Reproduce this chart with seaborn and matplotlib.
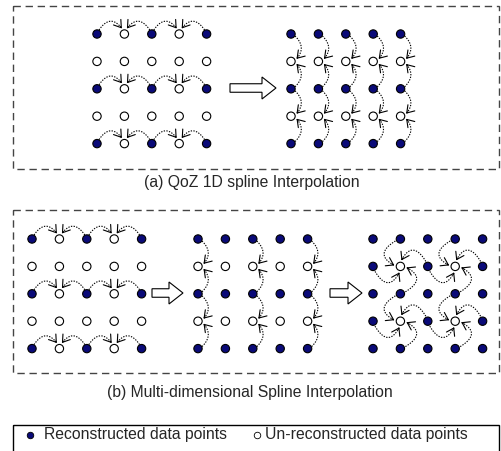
import numpy as np
import pandas as pd
import matplotlib.pyplot as plt
from matplotlib.patches import Rectangle, FancyArrow
import seaborn as sns

sns.set_theme(style="white")
plt.rcParams['font.family'] = ['Liberation Sans', 'DejaVu Sans']

# grid states, row by row: 1 = reconstructed point, 0 = not reconstructed yet
state_1d_before = [[1, 0, 1, 0, 1], [0, 0, 0, 0, 0], [1, 0, 1, 0, 1], [0, 0, 0, 0, 0], [1, 0, 1, 0, 1]]
state_1d_after = [[1, 1, 1, 1, 1], [0, 0, 0, 0, 0], [1, 1, 1, 1, 1], [0, 0, 0, 0, 0], [1, 1, 1, 1, 1]]
state_md_step3 = [[1, 1, 1, 1, 1], [1, 0, 1, 0, 1], [1, 1, 1, 1, 1], [1, 0, 1, 0, 1], [1, 1, 1, 1, 1]]

# points being interpolated (col, row)
targets_h = [(1, 0), (3, 0), (1, 2), (3, 2), (1, 4), (3, 4)]
targets_v_all = [(c, r) for r in (1, 3) for c in range(5)]
targets_v_even = [(c, r) for r in (1, 3) for c in (0, 2, 4)]
targets_swirl = [(1, 1), (3, 1), (1, 3), (3, 3)]

captions = ["(a) QoZ 1D spline Interpolation", "(b) Multi-dimensional Spline Interpolation"]
legend_labels = ["Reconstructed data points", "Un-reconstructed data points"]

# layout (pixels): grid origin, state, arrow kind, targets
step = 27.4
panels = [
    ((97, 34), state_1d_before, "h", targets_h),
    ((291, 34), state_1d_after, "v", targets_v_all),
    ((32, 239), state_1d_before, "h", targets_h),
    ((198, 239), state_1d_after, "v", targets_v_even),
    ((373, 239), state_md_step3, "s", targets_swirl),
]
block_arrows = [(230, 276, 88), (152, 183, 293), (330, 362, 293)]

fig = plt.figure(figsize=(5.01, 4.51), dpi=100)
ax = fig.add_axes([0, 0, 1, 1])

rows = []
for (x0, y0), state, kind, targets in panels:
    for r, line in enumerate(state):
        for c, v in enumerate(line):
            rows.append({"x": x0 + c * step, "y": y0 + r * step,
                         "state": "filled" if v else "empty"})
df = pd.DataFrame(rows)
sns.scatterplot(data=df, x="x", y="y", hue="state",
                palette={"filled": "#0a0a78", "empty": "white"},
                edgecolor="black", linewidth=0.8, s=36, legend=False, ax=ax, zorder=3)


def curve(p0, p1, ctrl):
    p0, p1, ctrl = map(np.asarray, (p0, p1, ctrl))
    t = np.linspace(0, 1, 40)[:, None]
    pts = (1 - t) ** 2 * p0 + 2 * (1 - t) * t * ctrl + t ** 2 * p1
    ax.plot(pts[:, 0], pts[:, 1], color="black", lw=0.8, ls=(0, (1.2, 1.2)), zorder=2)
    d = p1 - ctrl
    d = d / np.hypot(*d)
    ax.annotate("", xy=p1, xytext=p1 - 2.5 * d,
                arrowprops=dict(arrowstyle="->,head_length=0.45,head_width=0.3", lw=0.8,
                                color="black", shrinkA=0, shrinkB=0, mutation_scale=11),
                zorder=4)


for (x0, y0), state, kind, targets in panels:
    for c, r in targets:
        T = np.array([x0 + c * step, y0 + r * step])
        if kind == "h":
            for sgn in (-1, 1):
                S = T + np.array([sgn * step, 0])
                a = S + np.array([-sgn * 2, -4])
                b = T + np.array([sgn * 2.5, -5.5])
                curve(a, b, (a + b) / 2 + np.array([0, -16]))
        elif kind == "v":
            for sgn in (-1, 1):
                S = T + np.array([0, sgn * step])
                a = S + np.array([4, -sgn * 2])
                b = T + np.array([5.5, sgn * 2.5])
                curve(a, b, (a + b) / 2 + np.array([11, 0]))
        else:
            for u in [(0, -1), (1, 0), (0, 1), (-1, 0)]:
                u = np.array(u, float)
                v = np.array([u[1], -u[0]])
                a = T + (step - 2) * u + 5 * v
                b = T + 6 * v + 1 * u
                curve(a, b, T + 27 * v + 12 * u)

for x1, x2, y in block_arrows:
    ax.add_patch(FancyArrow(x1, y, x2 - x1, 0, width=8.5, head_width=22, head_length=14,
                            length_includes_head=True, fc="white", ec="black", lw=0.8, zorder=3))

for top, bottom in [(6, 169), (210, 373)]:
    ax.add_patch(Rectangle((13, top), 486, bottom - top, fill=False, ec="#444444",
                           lw=1, ls=(0, (5.3, 3.4))))

ax.text(252, 183, captions[0], ha="center", va="center", fontsize=11.3)
ax.text(250, 393, captions[1], ha="center", va="center", fontsize=11.3)

ax.add_patch(Rectangle((13, 425), 486, 40, fill=False, ec="black", lw=1))
ax.scatter([30], [434.5], s=22, color="#0a0a78", edgecolor="black", linewidth=0.6, zorder=3)
ax.scatter([257], [434.5], s=22, color="white", edgecolor="black", linewidth=0.6, zorder=3)
ax.text(44, 434.5, legend_labels[0], ha="left", va="center", fontsize=11.3)
ax.text(265, 434.5, legend_labels[1], ha="left", va="center", fontsize=11.3)

ax.set_xlim(0, 501)
ax.set_ylim(451, 0)
ax.axis("off")
fig.savefig("out.png", dpi=100)
